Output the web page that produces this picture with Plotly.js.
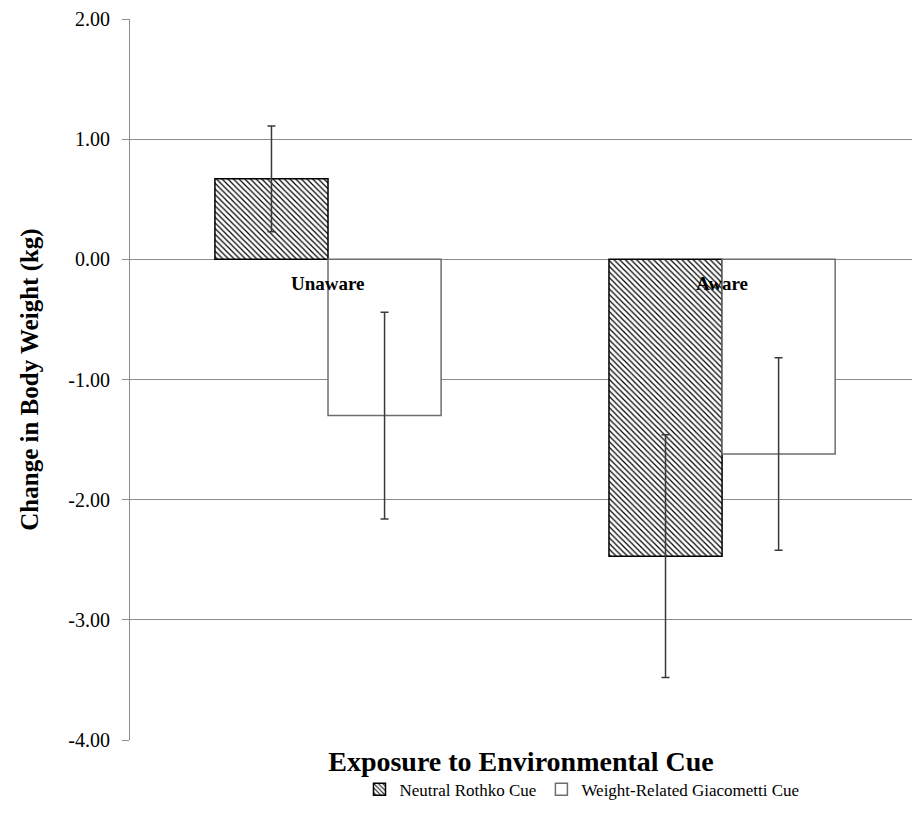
<!DOCTYPE html>
<html>
<head>
<meta charset="utf-8">
<script src="https://cdn.plot.ly/plotly-3.0.1.min.js"></script>
<style>html,body{margin:0;padding:0;background:#fff;}#chart{width:912px;height:825px;}</style>
</head>
<body>
<div id="chart"></div>
<script>
var categories = ["Unaware", "Aware"];
var neutralName = "Neutral Rothko Cue";
var weightName = "Weight-Related Giacometti Cue";
var neutralValues = [0.67, -2.47];
var neutralErrors = [0.44, 1.01];
var weightValues = [-1.30, -1.62];
var weightErrors = [0.86, 0.80];
var yTickVals = [2, 1, 0, -1, -2, -3, -4];
var yTickText = ["2.00", "1.00", "0.00", "-1.00", "-2.00", "-3.00", "-4.00"];

var FONT = "Liberation Serif";
var idx = categories.map(function(c, i){ return i; });

var traces = [
  {
    type: "bar", name: neutralName, x: idx, y: neutralValues,
    marker: {
      color: "#ffffff",
      pattern: {shape: "\\", fgcolor: "#000000", bgcolor: "#ffffff", size: 4, solidity: 0.3},
      line: {color: "#000000", width: 1.5}
    },
    error_y: {type: "data", array: neutralErrors, visible: true, color: "#3a3a3a", thickness: 1.5, width: 4}
  },
  {
    type: "bar", name: weightName, x: idx, y: weightValues,
    marker: {color: "#ffffff", line: {color: "#6e6e6e", width: 1.5}},
    error_y: {type: "data", array: weightErrors, visible: true, color: "#3a3a3a", thickness: 1.5, width: 4}
  }
];

var annotations = categories.map(function(c, i){
  return {x: i, y: 0, xref: "x", yref: "y", text: "<b>" + c + "</b>", showarrow: false,
          yanchor: "top", yshift: -12, font: {family: FONT, size: 19, color: "#000"}};
});

var layout = {
  width: 912, height: 825,
  margin: {l: 130, r: 0, t: 19, b: 85},
  paper_bgcolor: "#fff", plot_bgcolor: "#fff",
  barmode: "group", bargap: 0.426, bargroupgap: 0,
  font: {family: FONT, color: "#000"},
  showlegend: true,
  legend: {orientation: "h", x: 0.578, xanchor: "center", y: -0.069, yanchor: "middle",
           font: {family: FONT, size: 17, color: "#000"}, itemwidth: 30, traceorder: "normal"},
  xaxis: {
    range: [-0.5025, 1.482], showticklabels: false, ticks: "", showgrid: false,
    zeroline: false, showline: false, fixedrange: true,
    title: {text: "<b>Exposure to Environmental Cue</b>", font: {family: FONT, size: 28, color: "#000"}, standoff: 11}
  },
  yaxis: {
    range: [-4, 2], tickvals: yTickVals, ticktext: yTickText,
    showgrid: true, gridcolor: "#8c8c8c", gridwidth: 1,
    zeroline: true, zerolinecolor: "#8c8c8c", zerolinewidth: 1,
    showline: true, linecolor: "#8c8c8c", linewidth: 1,
    ticks: "outside", ticklen: 7, tickcolor: "#8c8c8c", ticklabelstandoff: 8,
    tickfont: {family: FONT, size: 20, color: "#000"},
    title: {text: "<b>Change in Body Weight (kg)</b>", font: {family: FONT, size: 25, color: "#000"}, standoff: 22}
  },
  annotations: annotations
};

Plotly.newPlot("chart", traces, layout, {displayModeBar: false, staticPlot: true});
</script>
</body>
</html>
